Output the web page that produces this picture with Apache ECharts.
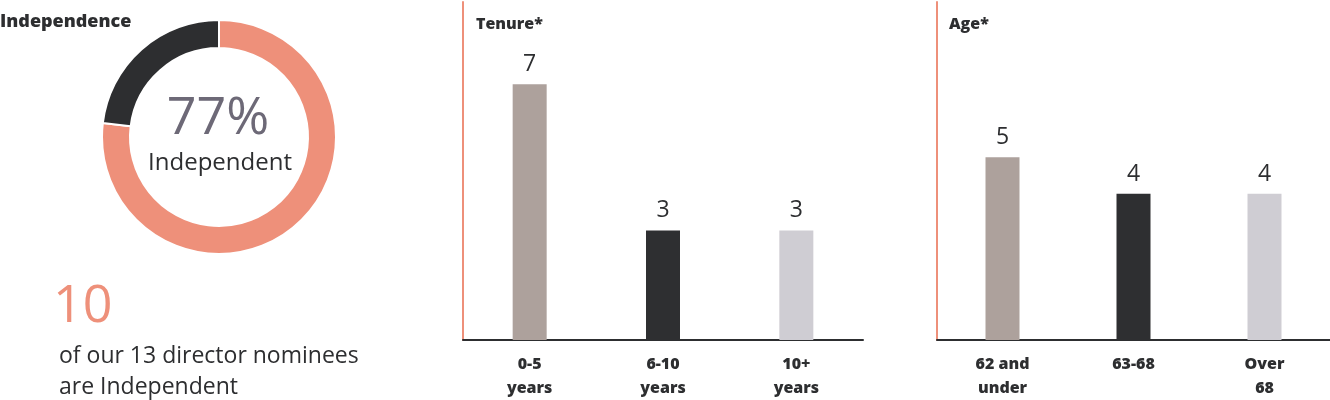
<!DOCTYPE html>
<html>
<head>
<meta charset="utf-8">
<script src="https://cdn.jsdelivr.net/npm/echarts@6/dist/echarts.min.js"></script>
<style>
  html, body { margin: 0; padding: 0; background: #fff; }
  #chart { width: 1330px; height: 400px; }
</style>
</head>
<body>
<div id="chart"></div>
<script>
// independence donut
const independenceNames = ['Independent', 'Not independent']
const independenceValues = [10, 3]
const totalNominees = 13

// tenure bars
const tenureCategories = ['0-5\nyears', '6-10\nyears', '10+\nyears']
const tenureValues = [7, 3, 3]

// age bars
const ageCategories = ['62 and\nunder', '63-68', 'Over\n68']
const ageValues = [5, 4, 4]

const SALMON = '#ee907a'
const DARK = '#2d2e30'
const barColors = ['#ada19c', '#2e2f31', '#cfcdd3']
const FONT = '"Open Sans", sans-serif'

const pct = Math.round(independenceValues[0] / totalNominees * 100)

const chart = echarts.init(document.getElementById('chart'))

const barSeries = (values, gridIndex) => ({
  type: 'bar',
  xAxisIndex: gridIndex,
  yAxisIndex: gridIndex,
  barWidth: 34,
  data: values.map((v, i) => ({ value: v, itemStyle: { color: barColors[i] } })),
  label: {
    show: true,
    position: 'top',
    distance: 8,
    color: DARK,
    fontFamily: FONT,
    fontSize: 23
  }
})

const xAxisFor = (cats, gridIndex) => ({
  type: 'category',
  gridIndex,
  data: cats,
  axisLine: { lineStyle: { color: DARK, width: 2 } },
  axisTick: { show: false },
  axisLabel: {
    color: DARK,
    fontFamily: FONT,
    fontWeight: 800,
    fontSize: 16,
    lineHeight: 24,
    margin: 12,
    interval: 0
  }
})

const yAxisFor = (gridIndex) => ({
  type: 'value',
  gridIndex,
  min: 0,
  max: 9.25,
  axisLine: { show: true, lineStyle: { color: SALMON, width: 2 } },
  axisLabel: { show: false },
  axisTick: { show: false },
  splitLine: { show: false }
})

const titleText = (text, left, top, style, align) => ({
  text, left, top, padding: 0, textAlign: align || 'left',
  textStyle: Object.assign({ fontFamily: FONT, color: DARK, fontWeight: 'normal' }, style)
})

const option = {
  animation: false,
  backgroundColor: '#fff',
  title: [
    titleText('Independence', 0, 13, { fontWeight: 800, fontSize: 18 }),
    titleText(pct + '%', 218, 93, { fontSize: 52, color: '#6d6977' }, 'center'),
    titleText('Independent', 220, 151, { fontSize: 24 }, 'center'),
    titleText(String(independenceValues[0]), 53, 281, { fontSize: 52, color: SALMON }),
    titleText('of our ' + totalNominees + ' director nominees\nare Independent', 59, 341,
      { fontSize: 23, lineHeight: 31 }),
    titleText('Tenure*', 476, 16, { fontWeight: 800, fontSize: 16 }),
    titleText('Age*', 949, 16, { fontWeight: 800, fontSize: 16 })
  ],
  grid: [
    { left: 463, top: 2, width: 400, height: 340 },
    { left: 937, top: 2, width: 393, height: 340 }
  ],
  xAxis: [xAxisFor(tenureCategories, 0), xAxisFor(ageCategories, 1)],
  yAxis: [yAxisFor(0), yAxisFor(1)],
  series: [
    {
      type: 'pie',
      center: [219, 137],
      radius: [89, 117],
      startAngle: 90,
      clockwise: true,
      label: { show: false },
      labelLine: { show: false },
      itemStyle: { borderColor: '#fff', borderWidth: 2 },
      emphasis: { disabled: true },
      data: independenceNames.map((n, i) => ({
        name: n,
        value: independenceValues[i],
        itemStyle: { color: i === 0 ? SALMON : DARK }
      }))
    },
    barSeries(tenureValues, 0),
    barSeries(ageValues, 1)
  ]
}

chart.setOption(option)
</script>
</body>
</html>
